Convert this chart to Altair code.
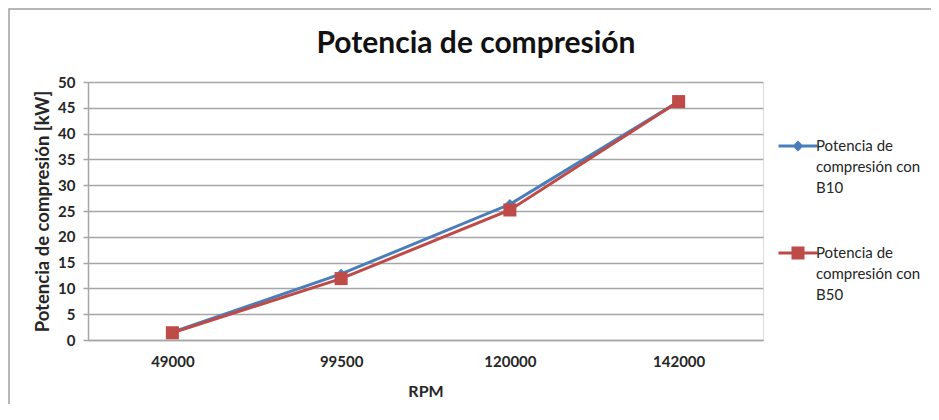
import altair as alt
import pandas as pd

rpm = ["49000", "99500", "120000", "142000"]
series = ["Potencia de compresión con B10", "Potencia de compresión con B50"]
b10 = [1.5, 12.8, 26.3, 46.2]
b50 = [1.4, 11.9, 25.2, 46.2]
legend_lines = [["Potencia de", "compresión con", "B10"],
                ["Potencia de", "compresión con", "B50"]]
colors = ["#4A7EBB", "#BE4B48"]
y_ticks = list(range(0, 51, 5))
title_text = "Potencia de compresión"

FONT = "Lato"
GRID = "#A6A6A6"
TXT = "#262626"

rows = []
for s, vals in zip(series, [b10, b50]):
    for r, v in zip(rpm, vals):
        rows.append({"rpm": r, "serie": s, "valor": v})
df = pd.DataFrame(rows)

x_enc = alt.X("rpm:N", sort=rpm, title="RPM",
              axis=alt.Axis(labelAngle=0, ticks=False, domain=True, domainColor=GRID,
                            domainWidth=1.5, labelPadding=14, titlePadding=14,
                            labelFont=FONT, labelFontSize=15, labelFontWeight="bold",
                            labelColor=TXT, titleFont=FONT, titleFontSize=16,
                            titleFontWeight="bold", titleColor=TXT, grid=False))
y_enc = alt.Y("valor:Q", title="Potencia de compresión [kW]",
              scale=alt.Scale(domain=[0, 50], nice=False),
              axis=alt.Axis(values=y_ticks, grid=True, gridColor=GRID, gridWidth=1.5,
                            domainColor=GRID, domainWidth=1.5, tickColor=GRID, tickSize=5,
                            tickWidth=1.5, labelPadding=8, titlePadding=5, labelOverlap=False,
                            labelFont=FONT, labelFontSize=15, labelFontWeight="bold",
                            labelColor=TXT, titleFont=FONT, titleFontSize=18.5,
                            titleFontWeight="bold", titleColor=TXT))

base = alt.Chart(df).encode(x=x_enc, y=y_enc)


def series_layers(name, color, shape, size):
    b = base.transform_filter(alt.datum.serie == name)
    ln = b.mark_line(strokeWidth=3, color=color)
    pt = b.mark_point(shape=shape, filled=True, size=size, opacity=1, color=color)
    return ln, pt


l10, p10 = series_layers(series[0], colors[0], "diamond", 110)
l50, p50 = series_layers(series[1], colors[1], "square", 170)

sym10 = "M-1.5,-0.11H1.5V0.11H-1.5Z M-0.42,0L0,-0.42L0.42,0L0,0.42Z"
sym50 = "M-1.5,-0.11H1.5V0.11H-1.5Z M-0.5,-0.5H0.5V0.5H-0.5Z"

label_expr = ("datum.label == '%s' ? ['%s','%s','%s'] : ['%s','%s','%s']"
              % (series[0], *legend_lines[0], *legend_lines[1]))
leg = alt.Legend(title=None, orient="none", legendX=697, legendY=51, direction="vertical",
                 symbolSize=676, labelFont=FONT, labelFontSize=15, labelColor=TXT,
                 labelLimit=0, labelExpr=label_expr, labelBaseline="middle",
                 rowPadding=44, labelOffset=5, symbolStrokeWidth=0)

leg_df = pd.DataFrame({"serie": series, "rpm": [rpm[0], rpm[0]], "valor": [-100, -100]})
legend_layer = alt.Chart(leg_df).mark_point(filled=True, clip=True, opacity=1).encode(
    x=x_enc,
    y=y_enc,
    color=alt.Color("serie:N", scale=alt.Scale(domain=series, range=colors), legend=leg),
    shape=alt.Shape("serie:N", scale=alt.Scale(domain=series, range=[sym10, sym50]), legend=leg),
)

border = alt.Chart(pd.DataFrame({"k": [0]})).mark_rect(
    fillOpacity=0, stroke="#A0A0A0", strokeWidth=1.5).encode(
    x=alt.value(-79), x2=alt.value(900), y=alt.value(-73), y2=alt.value(400))

title = alt.Chart(pd.DataFrame({"t": [title_text]})).mark_text(
    font=FONT, fontSize=30, fontWeight="bold", color="#111111",
    align="center", baseline="alphabetic").encode(
    text="t:N", x=alt.value(388), y=alt.value(-29))

chart = alt.layer(border, title, l10, l50, p10, p50, legend_layer).properties(
    width=675, height=258,
    padding={"left": 80, "top": 74, "right": 168, "bottom": 64},
    autosize=alt.AutoSizeParams(type="none"),
    background="white",
).configure_view(stroke=None).configure(style={"guide-label": {"lineHeight": 21}})

chart.save("out.html", embed_options={"renderer": "svg", "actions": False})
